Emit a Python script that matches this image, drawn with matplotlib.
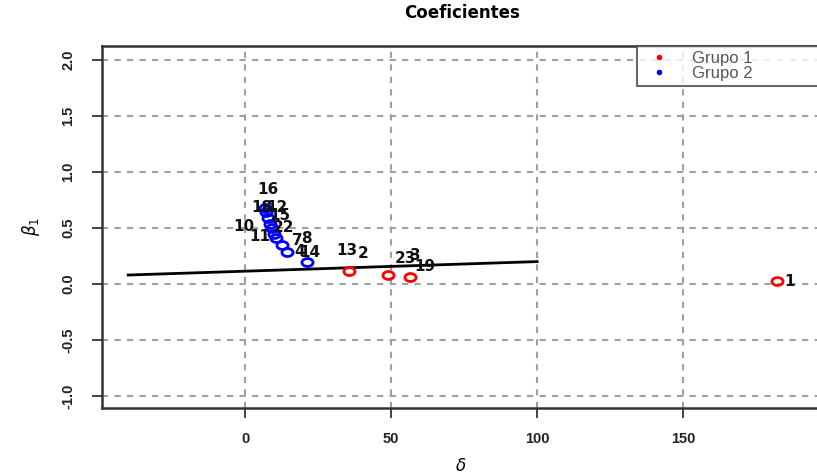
import matplotlib
matplotlib.use("Agg")
import matplotlib.pyplot as plt
from matplotlib.path import Path
from matplotlib.transforms import Affine2D

plt.rcParams['font.family'] = ['Liberation Sans', 'DejaVu Sans']

# group 1 (red) and group 2 (blue) estimates
g1_delta = [182.0, 35.7, 49.1, 56.5]
g1_beta = [0.03, 0.116, 0.08, 0.065]
g2_delta = [6.8, 7.3, 7.8, 8.5, 9.2, 10.0, 10.6, 12.7, 14.4, 21.2]
g2_beta = [0.68, 0.64, 0.59, 0.54, 0.50, 0.45, 0.41, 0.35, 0.29, 0.20]

# individual labels
lab_text = ["1", "13", "2", "23", "3", "19", "16", "18", "12", "15",
            "10", "22", "11", "7", "8", "4", "14"]
lab_delta = [186.3, 34.9, 40.4, 54.8, 58.2, 61.6, 7.9, 5.8, 11.0, 12.0,
             -0.3, 13.0, 5.1, 17.8, 20.9, 18.8, 22.3]
lab_beta = [0.018, 0.30, 0.27, 0.23, 0.25, 0.16, 0.84, 0.68, 0.68, 0.61,
            0.51, 0.50, 0.42, 0.39, 0.41, 0.29, 0.28]

# fitted line
line_delta = [-40, 100]
line_beta = [0.08, 0.20]

xticks = [0, 50, 100, 150]
yticks = [-1.0, -0.5, 0.0, 0.5, 1.0, 1.5, 2.0]

# the picture is stretched sideways, so circles are a bit wide
ell = Affine2D().scale(1.4, 1.0).transform_path(Path.unit_circle())

fig = plt.figure(figsize=(8.17, 4.76), dpi=100)
ax = fig.add_axes([0.1248, 0.1429, 0.879, 0.7605])

ax.set_xlim(-49, 196.9)
ax.set_ylim(-1.107, 2.125)

for x in xticks:
    ax.axvline(x, color='#a0a0a0', lw=1.5, ls=(0, (3, 3)), zorder=0)
for y in yticks:
    ax.axhline(y, color='#a0a0a0', lw=1.5, ls=(0, (3, 3)), zorder=0)

ax.plot(line_delta, line_beta, color='black', lw=2, zorder=2)

ax.plot(g1_delta, g1_beta, ls='none', marker=ell, mfc='none', mec='red',
        mew=2, ms=8, zorder=3)
ax.plot(g2_delta, g2_beta, ls='none', marker=ell, mfc='none', mec='blue',
        mew=2, ms=8, zorder=3)

for t, x, y in zip(lab_text, lab_delta, lab_beta):
    ax.text(x, y, t, ha='center', va='center', fontsize=11, fontweight='bold',
            family='DejaVu Sans', color='#111111', zorder=4)

ax.set_xticks(xticks)
ax.set_xticklabels([str(v) for v in xticks], fontsize=10.5, fontweight='bold')
ax.set_yticks(yticks)
ax.set_yticklabels(["%.1f" % v for v in yticks], fontsize=10.5, fontweight='bold',
                   rotation=90, va='center')
ax.tick_params(length=7, width=1.2, direction='out', pad=12, colors='#222222')
ax.tick_params(axis='x', pad=10)

for s in ax.spines.values():
    s.set_linewidth(1.8)
    s.set_color('#333333')

ax.set_xlabel(r'$\delta$', fontsize=12, labelpad=8)
ax.set_ylabel(r'$\beta_1$', fontsize=12, labelpad=14)
fig.text(0.565, 0.972, "Coeficientes", ha='center', va='center',
         fontsize=12, fontweight='bold', family='DejaVu Sans')

h1, = ax.plot([], [], 'o', color='red', ms=3)
h2, = ax.plot([], [], 'o', color='blue', ms=3)
leg = ax.legend([h1, h2], ["Grupo 1", "Grupo 2"], loc='upper left',
                bbox_to_anchor=(0.745, 0.0, 0.26, 1.0), mode='expand',
                fontsize=12, frameon=True, fancybox=False, borderpad=0.3,
                labelspacing=0.0, handlelength=2.0, handletextpad=1.0,
                borderaxespad=0)
leg.get_frame().set_edgecolor('#444444')
leg.get_frame().set_linewidth(1.5)
for t in leg.get_texts():
    t.set_color('#555555')

fig.savefig("out.png", dpi=100)
